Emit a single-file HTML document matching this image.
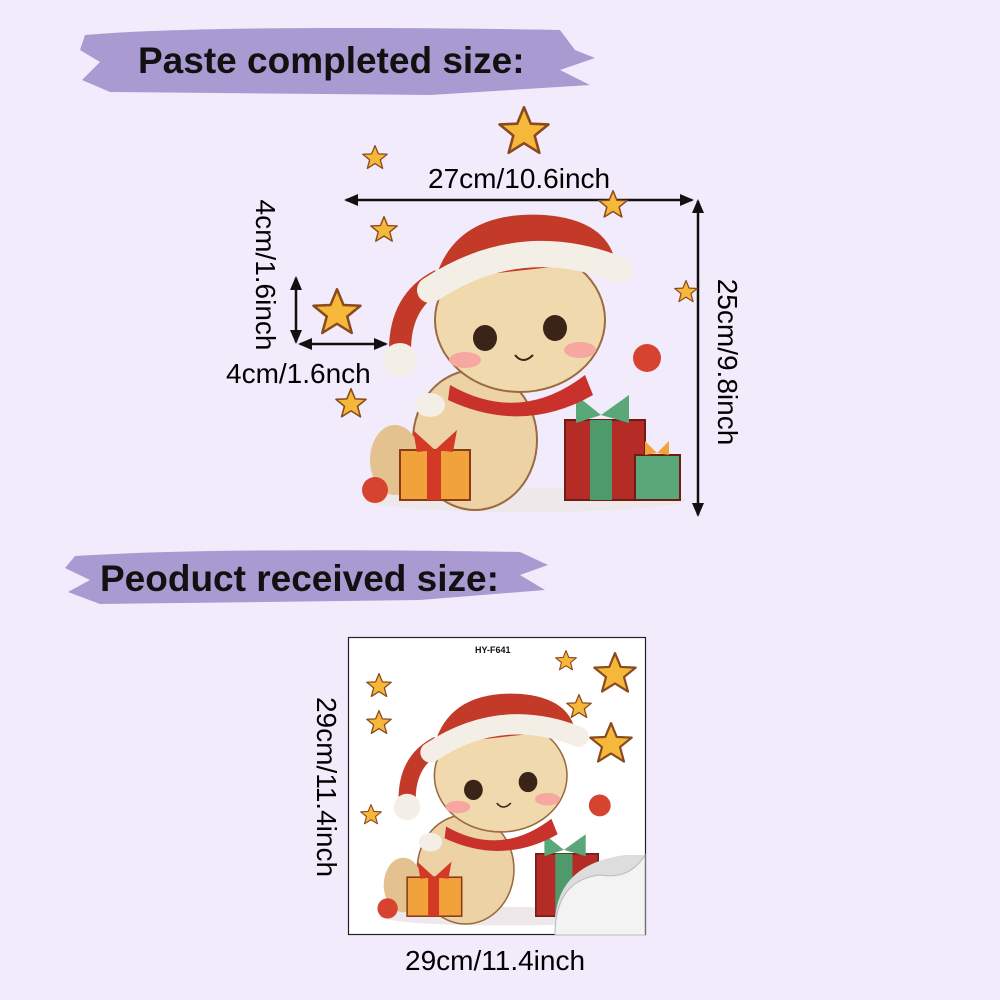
<!DOCTYPE html>
<html><head><meta charset="utf-8">
<style>
html,body{margin:0;padding:0}
body{width:1000px;height:1000px;background:#f1ebfb;position:relative;overflow:hidden;font-family:"Liberation Sans",sans-serif;color:#111}
.t{position:absolute;white-space:nowrap}
.h{font-weight:bold;font-size:37px}
.m{font-size:28px;color:#000}
</style></head><body>
<svg width="1000" height="1000" style="position:absolute;left:0;top:0">
<defs>
<marker id="a" markerUnits="userSpaceOnUse" markerWidth="14" markerHeight="14" refX="12" refY="7" orient="auto-start-reverse"><path d="M0,1 L14,7 L0,13 z" fill="#111"/></marker>
<symbol id="star" viewBox="-10 -10 20 20"><polygon points="0,-9.5 2.6,-3.2 9.4,-2.9 4.1,1.4 5.9,8 0,4.3 -5.9,8 -4.1,1.4 -9.4,-2.9 -2.6,-3.2" fill="#f6b83a" stroke="#8a4a20" stroke-width="1" stroke-linejoin="round"/></symbol>
<g id="cat">
 <ellipse cx="170" cy="290" rx="160" ry="12" fill="#eee8ea"/>
 <ellipse cx="120" cy="230" rx="62" ry="70" fill="#ecd2a4" stroke="#9a6a40" stroke-width="2"/>
 <ellipse cx="40" cy="250" rx="25" ry="35" fill="#e3c28f"/>
 <rect x="45" y="240" width="70" height="50" fill="#f2a23a" stroke="#8a3b1c" stroke-width="2"/>
 <rect x="72" y="240" width="14" height="50" fill="#d23a25"/>
 <path d="M80,240 l-22,-20 l4,22z M80,240 l22,-20 l-4,22z" fill="#d23a25"/>
 <rect x="210" y="210" width="80" height="80" fill="#b52b25" stroke="#6e1c14" stroke-width="2"/>
 <rect x="235" y="210" width="22" height="80" fill="#4e9a6a"/>
 <path d="M246,205 l-25,-20 l0,28z M246,205 l28,-20 l0,28z" fill="#5aa87a"/>
 <rect x="280" y="245" width="45" height="45" fill="#5aa87a" stroke="#6e1c14" stroke-width="2"/>
 <path d="M302,243 l-12,-12 l0,14z M302,243 l12,-12 l0,14z" fill="#f2a23a"/>
 <circle cx="20" cy="280" r="13" fill="#d64430"/>
 <circle cx="292" cy="148" r="14" fill="#d64430"/>
 <ellipse cx="165" cy="110" rx="85" ry="72" fill="#f1d9ae" stroke="#9a6a40" stroke-width="2"/>
 <ellipse cx="130" cy="128" rx="12" ry="13" fill="#3a2418"/>
 <ellipse cx="200" cy="118" rx="12" ry="13" fill="#3a2418"/>
 <ellipse cx="110" cy="150" rx="16" ry="8" fill="#f5a7a0"/>
 <ellipse cx="225" cy="140" rx="16" ry="8" fill="#f5a7a0"/>
 <path d="M160,145 q8,10 18,0" stroke="#3a2418" fill="none" stroke-width="2"/>
 <path d="M95,175 q70,40 135,-10 l8,20 q-70,40 -145,5z" fill="#c8322a"/>
 <path d="M80,70 q20,-70 110,-65 q60,5 70,45 z" fill="#c33a28"/>
 <path d="M85,70 q-40,20 -40,70" stroke="#c33a28" stroke-width="22" fill="none"/>
 <path d="M75,80 q90,-60 190,-20" stroke="#f4efe6" stroke-width="26" fill="none" stroke-linecap="round"/>
 <circle cx="45" cy="150" r="17" fill="#f4efe6"/>
 <ellipse cx="75" cy="195" rx="15" ry="12" fill="#f4efe6"/>
</g>
</defs>
<path d="M85,35 C200,25 450,28 560,30 L575,50 L595,58 L560,70 L590,85 L430,95 L110,92 L82,80 L100,62 L80,50 Z" fill="#a99bd2"/>
<path d="M75,556 C200,548 400,550 520,552 L548,565 L520,575 L545,590 L420,600 L100,604 L68,592 L90,580 L65,568 Z" fill="#a99bd2"/>

<g transform="translate(355,210)"><use href="#cat"/></g>

<line x1="346" y1="200" x2="692" y2="200" stroke="#111" stroke-width="2.5" marker-start="url(#a)" marker-end="url(#a)"/>
<line x1="698" y1="201" x2="698" y2="515" stroke="#111" stroke-width="2.5" marker-start="url(#a)" marker-end="url(#a)"/>
<line x1="296" y1="278" x2="296" y2="342" stroke="#111" stroke-width="2.5" marker-start="url(#a)" marker-end="url(#a)"/>
<line x1="300" y1="344" x2="386" y2="344" stroke="#111" stroke-width="2.5" marker-start="url(#a)" marker-end="url(#a)"/>

<use href="#star" x="312" y="288" width="50" height="50"/>
<use href="#star" x="498" y="106" width="52" height="52"/>
<use href="#star" x="362" y="145" width="26" height="26"/>
<use href="#star" x="370" y="216" width="28" height="28"/>
<use href="#star" x="598" y="190" width="30" height="30"/>
<use href="#star" x="674" y="280" width="24" height="24"/>
<use href="#star" x="335" y="388" width="32" height="32"/>

<rect x="348.5" y="637.5" width="297" height="297" fill="#fff" stroke="#222" stroke-width="1.2"/>
<g transform="translate(372,690) scale(0.78)"><use href="#cat"/></g>
<use href="#star" x="593" y="652" width="44" height="44"/>
<use href="#star" x="589" y="722" width="44" height="44"/>
<use href="#star" x="555" y="650" width="22" height="22"/>
<use href="#star" x="566" y="694" width="26" height="26"/>
<use href="#star" x="366" y="673" width="26" height="26"/>
<use href="#star" x="366" y="710" width="26" height="26"/>
<use href="#star" x="360" y="804" width="22" height="22"/>
<path d="M555,935 q-5,-70 70,-80 l20,0 l0,80z" fill="#ddd"/>
<path d="M555,935 q0,-55 45,-60 q30,5 45,-20 l0,80z" fill="#f3f3f3" stroke="#bbb"/>
</svg>

<div class="t h" style="left:138px;top:40px">Paste completed size:</div>
<div class="t h" style="left:100px;top:558px">Peoduct received size:</div>
<div class="t m" style="left:428px;top:163px">27cm/10.6inch</div>
<div class="t m" style="left:226px;top:358px">4cm/1.6nch</div>
<div class="t m" style="left:265px;top:275px;transform:translate(-50%,-50%) rotate(90deg)">4cm/1.6inch</div>
<div class="t m" style="left:727px;top:362px;transform:translate(-50%,-50%) rotate(90deg)">25cm/9.8inch</div>
<div class="t m" style="left:326px;top:787px;transform:translate(-50%,-50%) rotate(90deg)">29cm/11.4inch</div>
<div class="t m" style="left:405px;top:945px">29cm/11.4inch</div>
<div class="t" style="left:475px;top:645px;font-size:9px;font-weight:bold">HY-F641</div>
</body></html>
